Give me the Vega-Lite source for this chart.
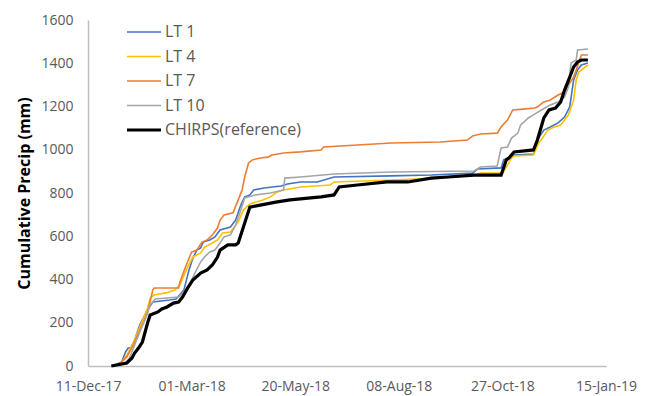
{
  "$schema": "https://vega.github.io/schema/vega-lite/v6.json",
  "width": 518,
  "height": 346,
  "autosize": "none",
  "padding": {"left": 88, "top": 20, "right": 44, "bottom": 30},
  "background": "white",
  "config": {
    "view": {"stroke": null},
    "font": "Open Sans"
  },
  "data": {
    "values": [
      {"series": "LT 1", "date": "2017-12-30", "precip": 0},
      {"series": "LT 1", "date": "2018-01-06", "precip": 18},
      {"series": "LT 1", "date": "2018-01-09", "precip": 65},
      {"series": "LT 1", "date": "2018-01-11", "precip": 83},
      {"series": "LT 1", "date": "2018-01-13", "precip": 83},
      {"series": "LT 1", "date": "2018-01-16", "precip": 120},
      {"series": "LT 1", "date": "2018-01-20", "precip": 190},
      {"series": "LT 1", "date": "2018-01-26", "precip": 259},
      {"series": "LT 1", "date": "2018-01-30", "precip": 296},
      {"series": "LT 1", "date": "2018-02-12", "precip": 305},
      {"series": "LT 1", "date": "2018-02-17", "precip": 310},
      {"series": "LT 1", "date": "2018-02-23", "precip": 351},
      {"series": "LT 1", "date": "2018-02-27", "precip": 444},
      {"series": "LT 1", "date": "2018-03-02", "precip": 499},
      {"series": "LT 1", "date": "2018-03-05", "precip": 536},
      {"series": "LT 1", "date": "2018-03-08", "precip": 546},
      {"series": "LT 1", "date": "2018-03-10", "precip": 573},
      {"series": "LT 1", "date": "2018-03-15", "precip": 583},
      {"series": "LT 1", "date": "2018-03-19", "precip": 597},
      {"series": "LT 1", "date": "2018-03-23", "precip": 629},
      {"series": "LT 1", "date": "2018-03-31", "precip": 643},
      {"series": "LT 1", "date": "2018-04-04", "precip": 675},
      {"series": "LT 1", "date": "2018-04-08", "precip": 744},
      {"series": "LT 1", "date": "2018-04-11", "precip": 782},
      {"series": "LT 1", "date": "2018-04-15", "precip": 791},
      {"series": "LT 1", "date": "2018-04-18", "precip": 814},
      {"series": "LT 1", "date": "2018-04-26", "precip": 823},
      {"series": "LT 1", "date": "2018-05-09", "precip": 832},
      {"series": "LT 1", "date": "2018-05-14", "precip": 842},
      {"series": "LT 1", "date": "2018-05-24", "precip": 851},
      {"series": "LT 1", "date": "2018-06-06", "precip": 851},
      {"series": "LT 1", "date": "2018-06-19", "precip": 874},
      {"series": "LT 1", "date": "2018-08-02", "precip": 879},
      {"series": "LT 1", "date": "2018-09-02", "precip": 883},
      {"series": "LT 1", "date": "2018-10-04", "precip": 892},
      {"series": "LT 1", "date": "2018-10-08", "precip": 911},
      {"series": "LT 1", "date": "2018-10-26", "precip": 916},
      {"series": "LT 1", "date": "2018-10-28", "precip": 953},
      {"series": "LT 1", "date": "2018-11-01", "precip": 966},
      {"series": "LT 1", "date": "2018-11-05", "precip": 976},
      {"series": "LT 1", "date": "2018-11-20", "precip": 980},
      {"series": "LT 1", "date": "2018-11-22", "precip": 1013},
      {"series": "LT 1", "date": "2018-11-24", "precip": 1054},
      {"series": "LT 1", "date": "2018-11-28", "precip": 1091},
      {"series": "LT 1", "date": "2018-12-03", "precip": 1105},
      {"series": "LT 1", "date": "2018-12-09", "precip": 1124},
      {"series": "LT 1", "date": "2018-12-14", "precip": 1151},
      {"series": "LT 1", "date": "2018-12-18", "precip": 1198},
      {"series": "LT 1", "date": "2018-12-21", "precip": 1323},
      {"series": "LT 1", "date": "2018-12-24", "precip": 1369},
      {"series": "LT 1", "date": "2018-12-27", "precip": 1392},
      {"series": "LT 1", "date": "2019-01-01", "precip": 1401},

      {"series": "LT 4", "date": "2017-12-30", "precip": 0},
      {"series": "LT 4", "date": "2018-01-05", "precip": 9},
      {"series": "LT 4", "date": "2018-01-10", "precip": 51},
      {"series": "LT 4", "date": "2018-01-15", "precip": 106},
      {"series": "LT 4", "date": "2018-01-20", "precip": 180},
      {"series": "LT 4", "date": "2018-01-26", "precip": 268},
      {"series": "LT 4", "date": "2018-01-28", "precip": 314},
      {"series": "LT 4", "date": "2018-01-31", "precip": 328},
      {"series": "LT 4", "date": "2018-02-09", "precip": 338},
      {"series": "LT 4", "date": "2018-02-16", "precip": 351},
      {"series": "LT 4", "date": "2018-02-20", "precip": 375},
      {"series": "LT 4", "date": "2018-02-26", "precip": 458},
      {"series": "LT 4", "date": "2018-03-02", "precip": 504},
      {"series": "LT 4", "date": "2018-03-08", "precip": 523},
      {"series": "LT 4", "date": "2018-03-11", "precip": 550},
      {"series": "LT 4", "date": "2018-03-17", "precip": 569},
      {"series": "LT 4", "date": "2018-03-21", "precip": 583},
      {"series": "LT 4", "date": "2018-03-25", "precip": 615},
      {"series": "LT 4", "date": "2018-03-31", "precip": 620},
      {"series": "LT 4", "date": "2018-04-06", "precip": 666},
      {"series": "LT 4", "date": "2018-04-10", "precip": 721},
      {"series": "LT 4", "date": "2018-04-15", "precip": 749},
      {"series": "LT 4", "date": "2018-04-25", "precip": 768},
      {"series": "LT 4", "date": "2018-05-01", "precip": 782},
      {"series": "LT 4", "date": "2018-05-06", "precip": 805},
      {"series": "LT 4", "date": "2018-05-11", "precip": 814},
      {"series": "LT 4", "date": "2018-05-24", "precip": 828},
      {"series": "LT 4", "date": "2018-06-16", "precip": 837},
      {"series": "LT 4", "date": "2018-06-19", "precip": 851},
      {"series": "LT 4", "date": "2018-08-02", "precip": 860},
      {"series": "LT 4", "date": "2018-09-09", "precip": 869},
      {"series": "LT 4", "date": "2018-10-05", "precip": 883},
      {"series": "LT 4", "date": "2018-10-10", "precip": 892},
      {"series": "LT 4", "date": "2018-10-27", "precip": 892},
      {"series": "LT 4", "date": "2018-10-31", "precip": 929},
      {"series": "LT 4", "date": "2018-11-03", "precip": 962},
      {"series": "LT 4", "date": "2018-11-05", "precip": 971},
      {"series": "LT 4", "date": "2018-11-20", "precip": 976},
      {"series": "LT 4", "date": "2018-11-24", "precip": 1031},
      {"series": "LT 4", "date": "2018-11-26", "precip": 1045},
      {"series": "LT 4", "date": "2018-12-01", "precip": 1091},
      {"series": "LT 4", "date": "2018-12-06", "precip": 1105},
      {"series": "LT 4", "date": "2018-12-11", "precip": 1114},
      {"series": "LT 4", "date": "2018-12-17", "precip": 1161},
      {"series": "LT 4", "date": "2018-12-21", "precip": 1230},
      {"series": "LT 4", "date": "2018-12-23", "precip": 1323},
      {"series": "LT 4", "date": "2018-12-25", "precip": 1360},
      {"series": "LT 4", "date": "2018-12-29", "precip": 1378},
      {"series": "LT 4", "date": "2019-01-01", "precip": 1392},

      {"series": "LT 7", "date": "2017-12-30", "precip": 0},
      {"series": "LT 7", "date": "2018-01-05", "precip": 14},
      {"series": "LT 7", "date": "2018-01-10", "precip": 42},
      {"series": "LT 7", "date": "2018-01-15", "precip": 97},
      {"series": "LT 7", "date": "2018-01-20", "precip": 166},
      {"series": "LT 7", "date": "2018-01-26", "precip": 245},
      {"series": "LT 7", "date": "2018-01-30", "precip": 351},
      {"series": "LT 7", "date": "2018-01-31", "precip": 361},
      {"series": "LT 7", "date": "2018-02-19", "precip": 361},
      {"series": "LT 7", "date": "2018-02-20", "precip": 388},
      {"series": "LT 7", "date": "2018-02-24", "precip": 453},
      {"series": "LT 7", "date": "2018-03-01", "precip": 527},
      {"series": "LT 7", "date": "2018-03-05", "precip": 536},
      {"series": "LT 7", "date": "2018-03-09", "precip": 573},
      {"series": "LT 7", "date": "2018-03-13", "precip": 583},
      {"series": "LT 7", "date": "2018-03-17", "precip": 606},
      {"series": "LT 7", "date": "2018-03-21", "precip": 638},
      {"series": "LT 7", "date": "2018-03-23", "precip": 675},
      {"series": "LT 7", "date": "2018-03-26", "precip": 698},
      {"series": "LT 7", "date": "2018-04-02", "precip": 708},
      {"series": "LT 7", "date": "2018-04-06", "precip": 768},
      {"series": "LT 7", "date": "2018-04-09", "precip": 814},
      {"series": "LT 7", "date": "2018-04-11", "precip": 874},
      {"series": "LT 7", "date": "2018-04-14", "precip": 939},
      {"series": "LT 7", "date": "2018-04-17", "precip": 953},
      {"series": "LT 7", "date": "2018-04-23", "precip": 962},
      {"series": "LT 7", "date": "2018-04-29", "precip": 966},
      {"series": "LT 7", "date": "2018-05-02", "precip": 976},
      {"series": "LT 7", "date": "2018-05-11", "precip": 985},
      {"series": "LT 7", "date": "2018-05-24", "precip": 990},
      {"series": "LT 7", "date": "2018-06-09", "precip": 999},
      {"series": "LT 7", "date": "2018-06-11", "precip": 1013},
      {"series": "LT 7", "date": "2018-07-07", "precip": 1022},
      {"series": "LT 7", "date": "2018-08-02", "precip": 1031},
      {"series": "LT 7", "date": "2018-09-09", "precip": 1036},
      {"series": "LT 7", "date": "2018-09-30", "precip": 1045},
      {"series": "LT 7", "date": "2018-10-04", "precip": 1064},
      {"series": "LT 7", "date": "2018-10-10", "precip": 1073},
      {"series": "LT 7", "date": "2018-10-23", "precip": 1077},
      {"series": "LT 7", "date": "2018-10-26", "precip": 1105},
      {"series": "LT 7", "date": "2018-10-31", "precip": 1138},
      {"series": "LT 7", "date": "2018-11-04", "precip": 1184},
      {"series": "LT 7", "date": "2018-11-12", "precip": 1188},
      {"series": "LT 7", "date": "2018-11-21", "precip": 1193},
      {"series": "LT 7", "date": "2018-11-23", "precip": 1198},
      {"series": "LT 7", "date": "2018-11-28", "precip": 1221},
      {"series": "LT 7", "date": "2018-12-03", "precip": 1230},
      {"series": "LT 7", "date": "2018-12-09", "precip": 1253},
      {"series": "LT 7", "date": "2018-12-14", "precip": 1267},
      {"series": "LT 7", "date": "2018-12-17", "precip": 1299},
      {"series": "LT 7", "date": "2018-12-21", "precip": 1336},
      {"series": "LT 7", "date": "2018-12-23", "precip": 1369},
      {"series": "LT 7", "date": "2018-12-25", "precip": 1406},
      {"series": "LT 7", "date": "2018-12-27", "precip": 1438},
      {"series": "LT 7", "date": "2019-01-01", "precip": 1438},

      {"series": "LT 10", "date": "2017-12-30", "precip": 0},
      {"series": "LT 10", "date": "2018-01-09", "precip": 14},
      {"series": "LT 10", "date": "2018-01-12", "precip": 37},
      {"series": "LT 10", "date": "2018-01-16", "precip": 97},
      {"series": "LT 10", "date": "2018-01-20", "precip": 157},
      {"series": "LT 10", "date": "2018-01-24", "precip": 213},
      {"series": "LT 10", "date": "2018-01-28", "precip": 282},
      {"series": "LT 10", "date": "2018-02-01", "precip": 310},
      {"series": "LT 10", "date": "2018-02-19", "precip": 319},
      {"series": "LT 10", "date": "2018-02-26", "precip": 361},
      {"series": "LT 10", "date": "2018-03-04", "precip": 435},
      {"series": "LT 10", "date": "2018-03-08", "precip": 481},
      {"series": "LT 10", "date": "2018-03-11", "precip": 504},
      {"series": "LT 10", "date": "2018-03-15", "precip": 527},
      {"series": "LT 10", "date": "2018-03-19", "precip": 536},
      {"series": "LT 10", "date": "2018-03-23", "precip": 569},
      {"series": "LT 10", "date": "2018-03-26", "precip": 597},
      {"series": "LT 10", "date": "2018-03-31", "precip": 606},
      {"series": "LT 10", "date": "2018-04-04", "precip": 652},
      {"series": "LT 10", "date": "2018-04-08", "precip": 721},
      {"series": "LT 10", "date": "2018-04-11", "precip": 777},
      {"series": "LT 10", "date": "2018-04-19", "precip": 791},
      {"series": "LT 10", "date": "2018-05-01", "precip": 800},
      {"series": "LT 10", "date": "2018-05-11", "precip": 814},
      {"series": "LT 10", "date": "2018-05-12", "precip": 869},
      {"series": "LT 10", "date": "2018-05-24", "precip": 874},
      {"series": "LT 10", "date": "2018-06-19", "precip": 888},
      {"series": "LT 10", "date": "2018-08-02", "precip": 897},
      {"series": "LT 10", "date": "2018-10-05", "precip": 902},
      {"series": "LT 10", "date": "2018-10-10", "precip": 920},
      {"series": "LT 10", "date": "2018-10-23", "precip": 925},
      {"series": "LT 10", "date": "2018-10-26", "precip": 1008},
      {"series": "LT 10", "date": "2018-10-31", "precip": 1013},
      {"series": "LT 10", "date": "2018-11-03", "precip": 1054},
      {"series": "LT 10", "date": "2018-11-08", "precip": 1077},
      {"series": "LT 10", "date": "2018-11-10", "precip": 1114},
      {"series": "LT 10", "date": "2018-11-16", "precip": 1147},
      {"series": "LT 10", "date": "2018-11-20", "precip": 1161},
      {"series": "LT 10", "date": "2018-11-26", "precip": 1184},
      {"series": "LT 10", "date": "2018-12-03", "precip": 1207},
      {"series": "LT 10", "date": "2018-12-09", "precip": 1221},
      {"series": "LT 10", "date": "2018-12-14", "precip": 1244},
      {"series": "LT 10", "date": "2018-12-17", "precip": 1290},
      {"series": "LT 10", "date": "2018-12-19", "precip": 1401},
      {"series": "LT 10", "date": "2018-12-23", "precip": 1415},
      {"series": "LT 10", "date": "2018-12-24", "precip": 1461},
      {"series": "LT 10", "date": "2019-01-01", "precip": 1466},

      {"series": "CHIRPS(reference)", "date": "2017-12-29", "precip": 0},
      {"series": "CHIRPS(reference)", "date": "2018-01-10", "precip": 14},
      {"series": "CHIRPS(reference)", "date": "2018-01-14", "precip": 37},
      {"series": "CHIRPS(reference)", "date": "2018-01-16", "precip": 60},
      {"series": "CHIRPS(reference)", "date": "2018-01-19", "precip": 83},
      {"series": "CHIRPS(reference)", "date": "2018-01-22", "precip": 111},
      {"series": "CHIRPS(reference)", "date": "2018-01-26", "precip": 199},
      {"series": "CHIRPS(reference)", "date": "2018-01-28", "precip": 236},
      {"series": "CHIRPS(reference)", "date": "2018-02-03", "precip": 250},
      {"series": "CHIRPS(reference)", "date": "2018-02-06", "precip": 264},
      {"series": "CHIRPS(reference)", "date": "2018-02-10", "precip": 273},
      {"series": "CHIRPS(reference)", "date": "2018-02-15", "precip": 291},
      {"series": "CHIRPS(reference)", "date": "2018-02-19", "precip": 296},
      {"series": "CHIRPS(reference)", "date": "2018-02-22", "precip": 319},
      {"series": "CHIRPS(reference)", "date": "2018-02-26", "precip": 361},
      {"series": "CHIRPS(reference)", "date": "2018-03-02", "precip": 398},
      {"series": "CHIRPS(reference)", "date": "2018-03-08", "precip": 430},
      {"series": "CHIRPS(reference)", "date": "2018-03-13", "precip": 444},
      {"series": "CHIRPS(reference)", "date": "2018-03-17", "precip": 467},
      {"series": "CHIRPS(reference)", "date": "2018-03-21", "precip": 504},
      {"series": "CHIRPS(reference)", "date": "2018-03-23", "precip": 536},
      {"series": "CHIRPS(reference)", "date": "2018-03-29", "precip": 560},
      {"series": "CHIRPS(reference)", "date": "2018-04-04", "precip": 560},
      {"series": "CHIRPS(reference)", "date": "2018-04-06", "precip": 569},
      {"series": "CHIRPS(reference)", "date": "2018-04-10", "precip": 643},
      {"series": "CHIRPS(reference)", "date": "2018-04-15", "precip": 735},
      {"series": "CHIRPS(reference)", "date": "2018-04-23", "precip": 744},
      {"series": "CHIRPS(reference)", "date": "2018-05-05", "precip": 758},
      {"series": "CHIRPS(reference)", "date": "2018-05-16", "precip": 768},
      {"series": "CHIRPS(reference)", "date": "2018-06-09", "precip": 782},
      {"series": "CHIRPS(reference)", "date": "2018-06-19", "precip": 791},
      {"series": "CHIRPS(reference)", "date": "2018-06-23", "precip": 828},
      {"series": "CHIRPS(reference)", "date": "2018-07-07", "precip": 837},
      {"series": "CHIRPS(reference)", "date": "2018-07-30", "precip": 851},
      {"series": "CHIRPS(reference)", "date": "2018-08-15", "precip": 851},
      {"series": "CHIRPS(reference)", "date": "2018-09-02", "precip": 869},
      {"series": "CHIRPS(reference)", "date": "2018-09-15", "precip": 874},
      {"series": "CHIRPS(reference)", "date": "2018-10-05", "precip": 883},
      {"series": "CHIRPS(reference)", "date": "2018-10-26", "precip": 883},
      {"series": "CHIRPS(reference)", "date": "2018-10-30", "precip": 953},
      {"series": "CHIRPS(reference)", "date": "2018-11-01", "precip": 962},
      {"series": "CHIRPS(reference)", "date": "2018-11-05", "precip": 990},
      {"series": "CHIRPS(reference)", "date": "2018-11-20", "precip": 999},
      {"series": "CHIRPS(reference)", "date": "2018-11-23", "precip": 1045},
      {"series": "CHIRPS(reference)", "date": "2018-11-28", "precip": 1147},
      {"series": "CHIRPS(reference)", "date": "2018-12-02", "precip": 1184},
      {"series": "CHIRPS(reference)", "date": "2018-12-07", "precip": 1193},
      {"series": "CHIRPS(reference)", "date": "2018-12-11", "precip": 1221},
      {"series": "CHIRPS(reference)", "date": "2018-12-14", "precip": 1276},
      {"series": "CHIRPS(reference)", "date": "2018-12-18", "precip": 1336},
      {"series": "CHIRPS(reference)", "date": "2018-12-21", "precip": 1383},
      {"series": "CHIRPS(reference)", "date": "2018-12-24", "precip": 1406},
      {"series": "CHIRPS(reference)", "date": "2018-12-27", "precip": 1415},
      {"series": "CHIRPS(reference)", "date": "2019-01-01", "precip": 1415}
    ]
  },
  "mark": {"type": "line", "interpolate": "linear", "strokeCap": "butt", "strokeJoin": "miter"},
  "encoding": {
    "x": {
      "field": "date",
      "type": "temporal",
      "scale": {
        "type": "utc",
        "domain": [
          {"year": 2017, "month": 12, "date": 11, "utc": true},
          {"year": 2019, "month": 1, "date": 15, "utc": true}
        ]
      },
      "axis": {
        "title": null,
        "values": [
          {"year": 2017, "month": 12, "date": 11, "utc": true},
          {"year": 2018, "month": 3, "date": 1, "utc": true},
          {"year": 2018, "month": 5, "date": 20, "utc": true},
          {"year": 2018, "month": 8, "date": 8, "utc": true},
          {"year": 2018, "month": 10, "date": 27, "utc": true},
          {"year": 2019, "month": 1, "date": 15, "utc": true}
        ],
        "labelExpr": "utcFormat(datum.value, '%d-%b-%y')",
        "grid": false,
        "ticks": false,
        "domainColor": "#BFBFBF",
        "domainWidth": 1.5,
        "labelFont": "Open Sans",
        "labelFontSize": 14,
        "labelColor": "#595959",
        "labelPadding": 13,
        "labelOverlap": false,
        "labelFlush": false
      }
    },
    "y": {
      "field": "precip",
      "type": "quantitative",
      "scale": {"domain": [0, 1600], "nice": false},
      "axis": {
        "title": "Cumulative Precip (mm)",
        "titleFont": "Open Sans",
        "titleFontSize": 16,
        "titleFontWeight": "bold",
        "titleColor": "#000000",
        "titlePadding": 8,
        "values": [0, 200, 400, 600, 800, 1000, 1200, 1400, 1600],
        "format": "d",
        "grid": false,
        "ticks": false,
        "domainColor": "#BFBFBF",
        "domainWidth": 1.5,
        "labelFont": "Open Sans",
        "labelFontSize": 14,
        "labelColor": "#595959",
        "labelPadding": 15
      }
    },
    "color": {
      "field": "series",
      "type": "nominal",
      "scale": {
        "domain": ["LT 1", "LT 4", "LT 7", "LT 10", "CHIRPS(reference)"],
        "range": ["#4472C4", "#FFC000", "#ED7D31", "#A5A5A5", "#000000"]
      },
      "legend": {
        "title": null,
        "orient": "none",
        "legendX": 48,
        "legendY": 4,
        "padding": 0,
        "symbolType": "M-2,0H2",
        "symbolSize": 289,
        "labelFont": "Open Sans",
        "labelFontSize": 16,
        "labelColor": "#595959",
        "labelOffset": 13,
        "rowPadding": 8.5,
        "encode": {
          "symbols": {
            "update": {
              "strokeWidth": {"signal": "datum.value === 'CHIRPS(reference)' ? 3.2 : 1.6"}
            }
          }
        }
      }
    },
    "strokeWidth": {
      "condition": {"test": "datum.series === 'CHIRPS(reference)'", "value": 3.2},
      "value": 1.6
    }
  }
}
